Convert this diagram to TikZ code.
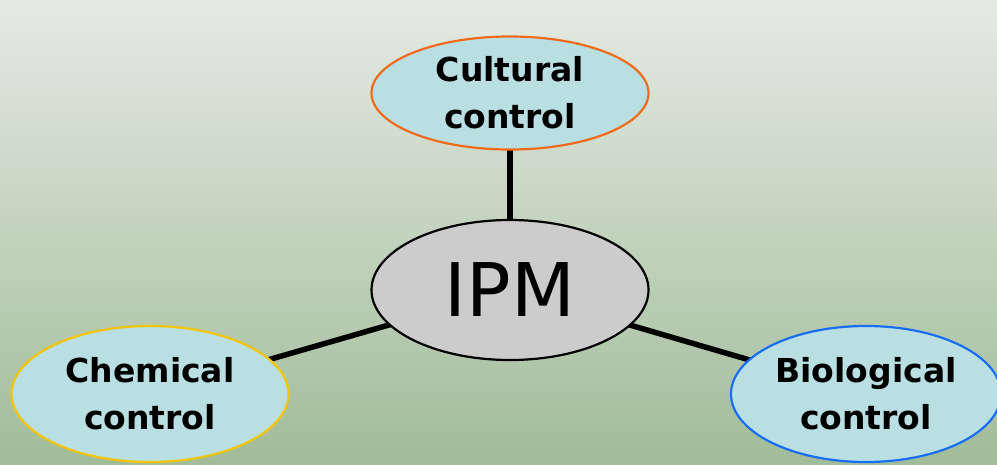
\documentclass[tikz,border=0pt]{standalone}
\usepackage{fontspec}
\setmainfont{DejaVu Sans}
\usetikzlibrary{shapes.geometric}
\definecolor{bgtop}{HTML}{E4EAE3}
\definecolor{bgbot}{HTML}{A1BC99}
\definecolor{cyanfill}{HTML}{B9DFE3}
\definecolor{ipmfill}{HTML}{CCCCCC}
\definecolor{orangeb}{HTML}{F26B1D}
\definecolor{yellowb}{HTML}{F2C40A}
\definecolor{blueb}{HTML}{1A6EF5}
\tikzset{
  ctrl/.style={ellipse, fill=cyanfill, line width=2.2pt, minimum width=277pt, minimum height=136pt, inner sep=0pt,
    align=center, font=\fontsize{33}{47}\selectfont\bfseries},
  link/.style={line width=5.5pt, black}
}
\begin{document}
\begin{tikzpicture}[x=1pt,y=-1pt]
\useasboundingbox (0,0) rectangle (997,464);
\clip (0,0) rectangle (997,464);
\shade[top color=bgtop, bottom color=bgbot] (0,0) rectangle (997,464);
\coordinate (cc) at (510,93);
\coordinate (ic) at (510,290);
\coordinate (chc) at (150,394);
\coordinate (bc) at (866,394);
\draw[link] (cc) -- (ic);
\draw[link] (chc) -- (ic);
\draw[link] (bc) -- (ic);
\node[ctrl, draw=orangeb, minimum height=113pt] (cult) at (cc) {Cultural\\control};
\node[ellipse, fill=ipmfill, draw=black, line width=2.2pt, minimum width=277pt, minimum height=140pt, inner sep=0pt,
  font=\fontsize{74}{80}\selectfont] (ipm) at (ic) {IPM};
\node[ctrl, draw=yellowb] (chem) at (chc) {Chemical\\control};
\node[ctrl, draw=blueb, minimum width=270pt] (bio) at (bc) {Biological\\control};
\end{tikzpicture}
\end{document}
